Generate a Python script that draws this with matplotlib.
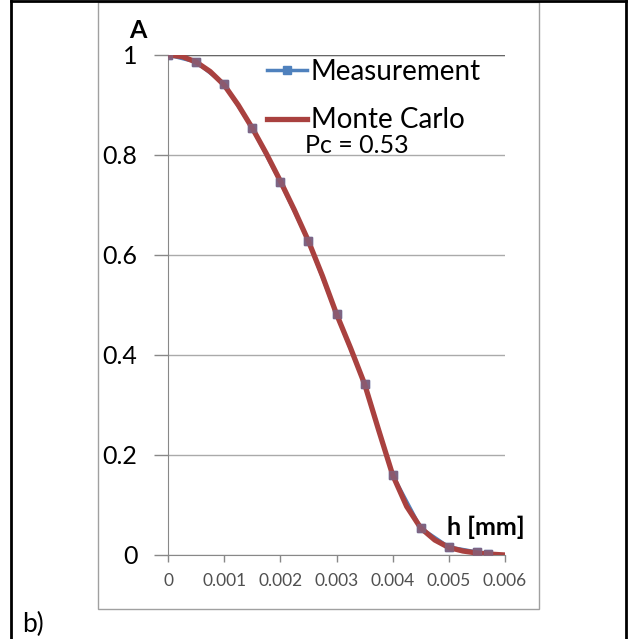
import matplotlib.pyplot as plt
from matplotlib.lines import Line2D
from matplotlib.patches import Rectangle

# measured attenuation A vs thickness h
h_meas = [0, 0.0005, 0.001, 0.0015, 0.002, 0.0025, 0.003, 0.0035, 0.004, 0.0045, 0.005, 0.0055, 0.0057]
a_meas = [1.0, 0.986, 0.942, 0.854, 0.746, 0.628, 0.482, 0.342, 0.16, 0.054, 0.016, 0.006, 0.002]

# Monte Carlo curve
h_mc = [0, 0.00025, 0.0005, 0.00075, 0.001, 0.00125, 0.0015, 0.00175, 0.002, 0.00225,
        0.0025, 0.00275, 0.003, 0.00325, 0.0035, 0.00375, 0.004, 0.00425, 0.0045,
        0.00475, 0.005, 0.00525, 0.0055, 0.0057, 0.006]
a_mc = [1.0, 0.997, 0.986, 0.967, 0.94, 0.9, 0.854, 0.803, 0.748, 0.69, 0.628, 0.558,
        0.482, 0.414, 0.342, 0.25, 0.16, 0.097, 0.054, 0.03, 0.015, 0.008, 0.004, 0.002, 0.0]

yticks = [0, 0.2, 0.4, 0.6, 0.8, 1]
ytick_labels = ["0", "0.2", "0.4", "0.6", "0.8", "1"]
xticks = [0, 0.001, 0.002, 0.003, 0.004, 0.005, 0.006]
xtick_labels = ["0", "0.001", "0.002", "0.003", "0.004", "0.005", "0.006"]

plt.rcParams['font.family'] = ['Lato', 'DejaVu Sans']

fig = plt.figure(figsize=(6.29, 6.39), dpi=100)
W, H = 629, 639
ax = fig.add_axes([168 / W, (H - 555) / H, (505 - 168) / W, (555 - 55) / H])

ax.plot(h_meas, a_meas, color='#4F81BD', lw=2.5, marker='s', ms=5.5, zorder=2,
        label='Measurement')
ax.plot(h_mc, a_mc, color='#A9413F', lw=3.8, zorder=3, label='Monte Carlo')
ax.plot(h_meas, a_meas, ls='none', marker='s', ms=5.5, color='#85607A', alpha=0.8, zorder=4)

ax.set_xlim(0, 0.006)
ax.set_ylim(0, 1)
ax.set_yticks(yticks)
ax.set_yticklabels(ytick_labels, fontsize=18)
ax.set_xticks(xticks)
ax.set_xticklabels(xtick_labels, fontsize=12.5, color='#505050')
ax.tick_params(axis='y', length=10, width=1, color='#888888', pad=12)
ax.tick_params(axis='x', length=5, width=1, color='#888888', pad=8)
ax.yaxis.grid(True, color='#AAAAAA', lw=1)
ax.set_axisbelow(True)
for s in ['top', 'right']:
    ax.spines[s].set_visible(False)
for s in ['left', 'bottom']:
    ax.spines[s].set_color('#888888')
ax.axhline(1, color='#666666', lw=1, zorder=1)

leg = ax.legend(loc='upper left', bbox_to_anchor=(242 / W, (H - 34) / H),
                bbox_transform=fig.transFigure, frameon=False, fontsize=20,
                handlelength=1.45, handletextpad=0.12, labelspacing=0.8)

fig.text(305 / W, (H - 145) / H, 'Pc = 0.53', fontsize=18, va='center')
fig.text(138 / W, (H - 30) / H, 'A', fontsize=18, fontweight='bold', ha='center', va='center')
fig.text(486 / W, (H - 527) / H, 'h [mm]', fontsize=18, fontweight='bold', ha='center', va='center')
fig.text(22 / W, (H - 624) / H, 'b)', fontsize=19, va='center')

# chart frame and outer box
fig.add_artist(Rectangle((98 / W, (H - 609) / H), (539 - 98) / W, (609 - 2) / H,
                         transform=fig.transFigure, fill=False, ec='#A0A0A0', lw=1))
fig.add_artist(Line2D([11 / W, 11 / W], [0, 1 - 1 / H], transform=fig.transFigure, color='black', lw=2))
fig.add_artist(Line2D([626 / W, 626 / W], [0, 1 - 1 / H], transform=fig.transFigure, color='black', lw=2))
fig.add_artist(Line2D([11 / W, 626 / W], [1 - 1 / H, 1 - 1 / H], transform=fig.transFigure, color='black', lw=2))

fig.savefig('out.png', dpi=100)
